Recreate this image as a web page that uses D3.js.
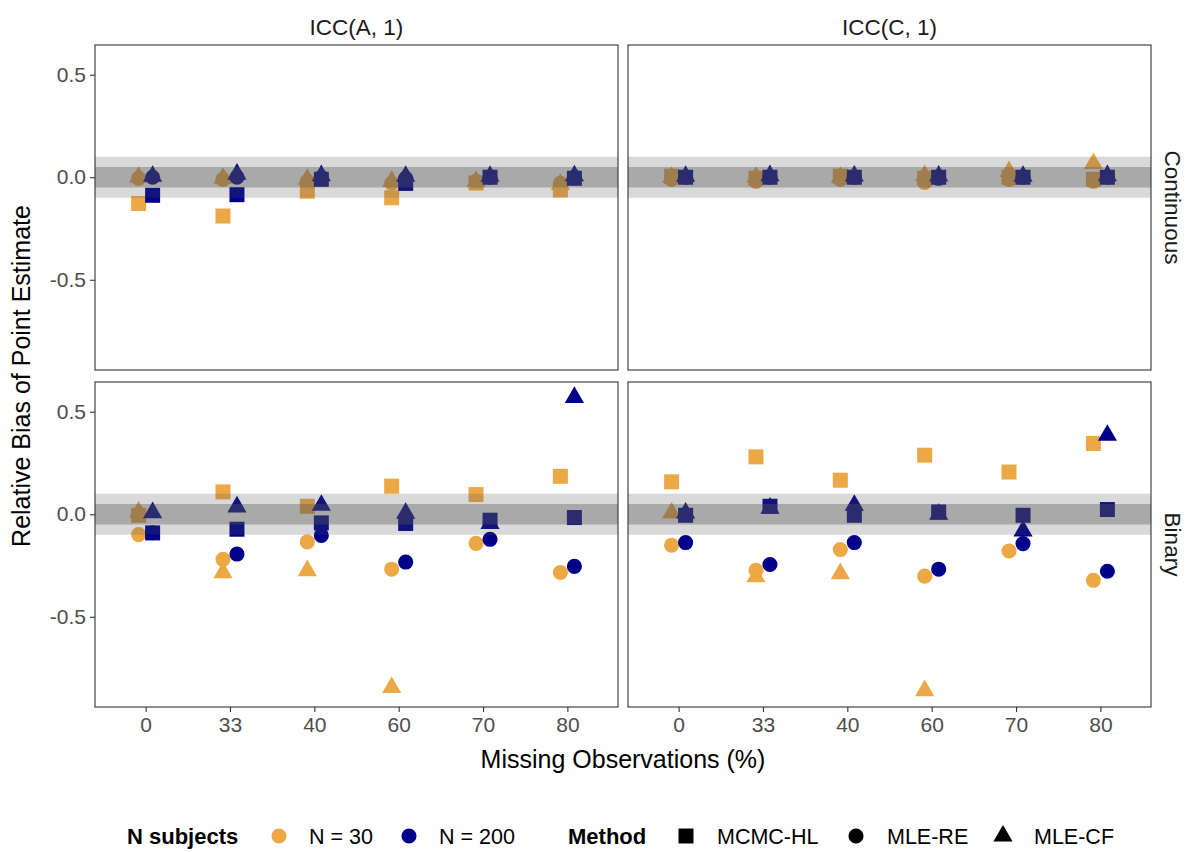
<!DOCTYPE html>
<html lang="en">
<head>
  <meta charset="UTF-8">
  <title>Relative Bias of Point Estimate</title>
  <script src="https://d3js.org/d3.v7.min.js"></script>
  <style>
    body {
      margin: 0;
      padding: 0;
      background: #fff;
      font-family: "Liberation Sans", Arial, sans-serif;
    }
    .tick-label { fill: #4d4d4d; font-size: 21px; }
    .axis-title { fill: #000; font-size: 25px; }
    .strip { fill: #1a1a1a; font-size: 22.5px; }
    .legend-title { fill: #000; font-size: 22px; font-weight: bold; }
    .legend-text { fill: #000; font-size: 21.5px; }
  </style>
</head>
<body>
  <svg width="1190" height="852"></svg>

  <script>
    // categories
    const missing = ["0", "33", "40", "60", "70", "80"];
    const iccTypes = ["ICC(A, 1)", "ICC(C, 1)"];
    const outcomes = ["Continuous", "Binary"];
    const nGroups = ["N = 30", "N = 200"];
    const methods = ["MCMC-HL", "MLE-RE", "MLE-CF"];
    const yTicks = [-0.5, 0, 0.5];

    // Continuous, ICC(A, 1)
    const contA_30_hl  = [-0.128, -0.189, -0.068, -0.100, -0.028, -0.062];
    const contA_30_re  = [-0.005, -0.010, -0.020, -0.030, -0.020, -0.030];
    const contA_30_cf  = [0.000, -0.005, -0.010, -0.020, -0.020, -0.035];
    const contA_200_hl = [-0.088, -0.085, -0.010, -0.030, 0.000, -0.005];
    const contA_200_re = [0.000, 0.000, 0.000, -0.005, 0.000, 0.000];
    const contA_200_cf = [0.005, 0.015, 0.008, 0.005, 0.005, 0.007];

    // Continuous, ICC(C, 1)
    const contC_30_hl  = [0.005, -0.005, 0.005, -0.005, 0.000, -0.010];
    const contC_30_re  = [-0.010, -0.020, -0.010, -0.025, -0.010, -0.020];
    const contC_30_cf  = [0.000, 0.000, 0.000, 0.008, 0.028, 0.067];
    const contC_200_hl = [0.000, 0.000, 0.000, 0.000, 0.000, 0.000];
    const contC_200_re = [0.000, 0.000, 0.000, -0.005, 0.000, 0.000];
    const contC_200_cf = [0.005, 0.008, 0.006, 0.006, 0.005, 0.008];

    // Binary, ICC(A, 1)
    const binA_30_hl  = [-0.005, 0.109, 0.039, 0.137, 0.096, 0.185];
    const binA_30_re  = [-0.099, -0.220, -0.135, -0.268, -0.142, -0.284];
    const binA_30_cf  = [0.011, -0.285, -0.275, -0.845, null, null];
    const binA_200_hl = [-0.091, -0.073, -0.042, -0.045, -0.029, -0.016];
    const binA_200_re = [-0.090, -0.194, -0.103, -0.233, -0.122, -0.254];
    const binA_200_cf = [0.008, 0.036, 0.044, 0.005, -0.045, 0.570];

    // Binary, ICC(C, 1)
    const binC_30_hl  = [0.158, 0.280, 0.166, 0.288, 0.206, 0.345];
    const binC_30_re  = [-0.151, -0.273, -0.172, -0.302, -0.179, -0.322];
    const binC_30_cf  = [0.006, -0.305, -0.290, -0.860, null, null];
    const binC_200_hl = [-0.005, 0.039, -0.005, 0.011, -0.005, 0.023];
    const binC_200_re = [-0.138, -0.245, -0.138, -0.268, -0.143, -0.278];
    const binC_200_cf = [0.006, 0.030, 0.044, 0.000, -0.081, 0.385];

    // panel -> [N group][method]
    const panelData = {
      "Continuous|ICC(A, 1)": [[contA_30_hl, contA_30_re, contA_30_cf], [contA_200_hl, contA_200_re, contA_200_cf]],
      "Continuous|ICC(C, 1)": [[contC_30_hl, contC_30_re, contC_30_cf], [contC_200_hl, contC_200_re, contC_200_cf]],
      "Binary|ICC(A, 1)": [[binA_30_hl, binA_30_re, binA_30_cf], [binA_200_hl, binA_200_re, binA_200_cf]],
      "Binary|ICC(C, 1)": [[binC_30_hl, binC_30_re, binC_30_cf], [binC_200_hl, binC_200_re, binC_200_cf]]
    };

    const colors = ["#ECA845", "#00008B"];
    const shapes = [d3.symbolSquare, d3.symbolCircle, d3.symbolTriangle];
    const shapeSize = [225, 180, 160];

    const svg = d3.select("svg");

    // layout
    const panelW = 523, panelH = 325;
    const colX = [95, 628];
    const rowY = [45, 382];

    const x = d3.scalePoint().domain(missing).range([0, panelW]).padding(0.6);
    const y = d3.scaleLinear().domain([-0.94, 0.645]).range([panelH, 0]);
    const dodge = x.step() * 0.083;

    outcomes.forEach((out, r) => {
      iccTypes.forEach((icc, c) => {
        const g = svg.append("g").attr("transform", `translate(${colX[c]},${rowY[r]})`);
        const series = panelData[out + "|" + icc];

        // points
        const pts = [];
        series.forEach((bySeries, ni) => {
          bySeries.forEach((vals, mi) => {
            vals.forEach((v, i) => {
              if (v !== null) pts.push({ cat: missing[i], v, ni, mi });
            });
          });
        });

        g.selectAll("path.pt")
          .data(pts)
          .enter().append("path")
          .attr("class", "pt")
          .attr("d", d => d3.symbol().type(shapes[d.mi]).size(shapeSize[d.mi])())
          .attr("transform", d => `translate(${x(d.cat) + (d.ni === 0 ? -dodge : dodge)},${y(d.v)})`)
          .attr("fill", d => colors[d.ni]);

        // reference bands drawn over the points
        g.append("rect")
          .attr("x", 0).attr("width", panelW)
          .attr("y", y(0.1)).attr("height", y(-0.1) - y(0.1))
          .attr("fill", "#555").attr("fill-opacity", 0.224);
        g.append("rect")
          .attr("x", 0).attr("width", panelW)
          .attr("y", y(0.05)).attr("height", y(-0.05) - y(0.05))
          .attr("fill", "#555").attr("fill-opacity", 0.364);

        // border
        g.append("rect")
          .attr("x", 0).attr("y", 0)
          .attr("width", panelW).attr("height", panelH)
          .attr("fill", "none").attr("stroke", "#333").attr("stroke-width", 1.1);

        // y axis on left column
        if (c === 0) {
          const ya = g.append("g").call(d3.axisLeft(y).tickValues(yTicks).tickSize(5).tickPadding(4).tickFormat(d3.format(".1f")));
          ya.select(".domain").remove();
          ya.selectAll(".tick line").attr("stroke", "#333").attr("stroke-width", 1.1);
          ya.selectAll(".tick text").attr("class", "tick-label").attr("fill", null)
            .style("font-family", null).text(d => d3.format(".1f")(d).replace("−", "-"));
          ya.attr("font-family", null).attr("font-size", null);
        }

        // x axis on bottom row
        if (r === outcomes.length - 1) {
          const xa = g.append("g").attr("transform", `translate(0,${panelH})`)
            .call(d3.axisBottom(x).tickSize(5).tickPadding(4));
          xa.select(".domain").remove();
          xa.selectAll(".tick line").attr("stroke", "#333").attr("stroke-width", 1.1);
          xa.selectAll(".tick text").attr("class", "tick-label").attr("fill", null).attr("dy", "0.78em");
          xa.attr("font-family", null).attr("font-size", null);
        }

        // top strips
        if (r === 0) {
          g.append("text").attr("class", "strip")
            .attr("x", panelW / 2).attr("y", -18)
            .attr("text-anchor", "middle").attr("dominant-baseline", "central")
            .text(icc);
        }
        // right strips
        if (c === iccTypes.length - 1) {
          g.append("text").attr("class", "strip")
            .attr("transform", `translate(${panelW + 21},${panelH / 2}) rotate(90)`)
            .attr("text-anchor", "middle").attr("dominant-baseline", "central")
            .text(out);
        }
      });
    });

    // axis titles
    svg.append("text").attr("class", "axis-title")
      .attr("x", (colX[0] + colX[1] + panelW) / 2).attr("y", 768)
      .attr("text-anchor", "middle")
      .text("Missing Observations (%)");

    svg.append("text").attr("class", "axis-title")
      .attr("transform", `translate(21,${(rowY[0] + rowY[1] + panelH) / 2}) rotate(-90)`)
      .attr("text-anchor", "middle").attr("dominant-baseline", "central")
      .text("Relative Bias of Point Estimate");

    // legend
    const legY = 836;
    const leg = svg.append("g");
    leg.append("text").attr("class", "legend-title").attr("x", 127).attr("y", legY + 8).text("N subjects");
    const nKeyX = [279, 409];
    nGroups.forEach((n, i) => {
      leg.append("path")
        .attr("d", d3.symbol().type(d3.symbolCircle).size(180)())
        .attr("transform", `translate(${nKeyX[i]},${legY})`)
        .attr("fill", colors[i]);
      leg.append("text").attr("class", "legend-text").attr("x", nKeyX[i] + 30).attr("y", legY + 8).text(n);
    });

    leg.append("text").attr("class", "legend-title").attr("x", 568).attr("y", legY + 8).text("Method");
    const mKeyX = [686, 856, 1003];
    methods.forEach((m, i) => {
      leg.append("path")
        .attr("d", d3.symbol().type(shapes[i]).size(shapeSize[i])())
        .attr("transform", `translate(${mKeyX[i]},${legY})`)
        .attr("fill", "#000");
      leg.append("text").attr("class", "legend-text").attr("x", mKeyX[i] + 31).attr("y", legY + 8).text(m);
    });
  </script>
</body>
</html>
